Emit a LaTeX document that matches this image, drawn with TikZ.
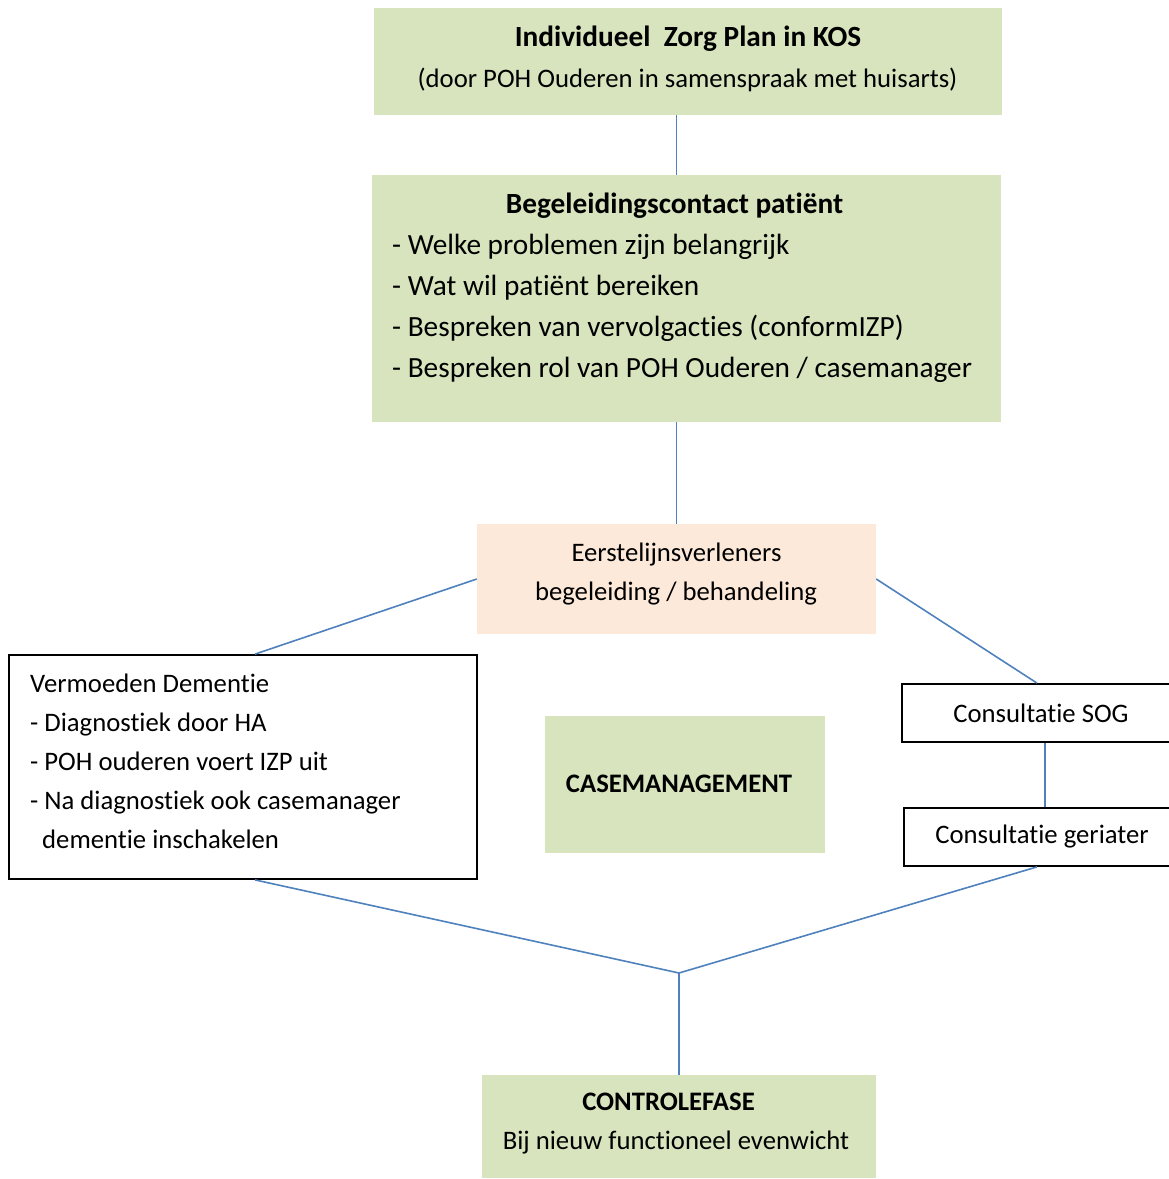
\documentclass[tikz,border=0pt]{standalone}
\usepackage{fontspec}
\setmainfont{Carlito}[Ligatures={NoCommon,NoContextual}]
\usetikzlibrary{positioning}

\definecolor{zorggreen}{HTML}{D7E4BD}
\definecolor{zorgpeach}{HTML}{FDE9D9}
\definecolor{zorgblue}{HTML}{4F81BD}

\tikzset{
  greenbox/.style={fill=zorggreen, inner sep=0pt},
  peachbox/.style={fill=zorgpeach, inner sep=0pt},
  plainbox/.style={draw=black, line width=1.8pt, fill=white, inner sep=0pt},
  lbl/.style={inner sep=0pt, font=\fontsize{26.7}{32}\selectfont},
  biglbl/.style={inner sep=0pt, font=\fontsize{29.3}{35}\selectfont},
  link/.style={draw=zorgblue, line width=1.6pt},
}

\begin{document}
\begin{tikzpicture}[x=1pt, y=-1pt]
\useasboundingbox (0,0) rectangle (1169,1179);

\node[greenbox, minimum width=628, minimum height=107] (izp) at (688,61.5) {};
\node[biglbl, anchor=base] (izpA) at (688,46) {\textbf{Individueel\ \ Zorg Plan in KOS}};
\node[lbl, anchor=base] (izpB) at (687.5,87) {(door POH Ouderen in samenspraak met huisarts)};

\node[greenbox, minimum width=629, minimum height=247] (contact) at (686.5,298.5) {};
\node[biglbl, anchor=base] (contactT) at (674.5,213) {\textbf{Begeleidingscontact patiënt}};
\foreach \t [count=\i] in {- Welke problemen zijn belangrijk, - Wat wil patiënt bereiken, - Bespreken van vervolgacties (conformIZP), - Bespreken rol van POH Ouderen / casemanager}
  \node[biglbl, anchor=base west] (contact\i) at (392,254+41*\i-41) {\t};

\node[peachbox, minimum width=399, minimum height=110] (eerste) at (676.5,579) {};
\node[lbl, anchor=base] (eersteA) at (676.5,561) {Eerstelijnsverleners};
\node[lbl, anchor=base] (eersteB) at (676,600) {begeleiding / behandeling};

\node[plainbox, minimum width=468, minimum height=224] (dementie) at (243,767) {};
\foreach \t/\x [count=\i] in {Vermoeden Dementie/30, - Diagnostiek door HA/30, - POH ouderen voert IZP uit/30, - Na diagnostiek ook casemanager/30, dementie inschakelen/42}
  \node[lbl, anchor=base west] (dementie\i) at (\x,692+39.2*\i-39.2) {\t};

\node[greenbox, minimum width=280, minimum height=137] (casemgmt) at (685,784.5) {};
\node[lbl, anchor=base] (casemgmtT) at (679,792) {\textbf{CASEMANAGEMENT}};

\node[plainbox, lbl, minimum width=278, minimum height=58] (sog) at (1041,713) {Consultatie SOG};
\node[plainbox, lbl, minimum width=276, minimum height=58] (geriater) at (1042,837) {Consultatie geriater};

\node[greenbox, minimum width=394, minimum height=103] (controle) at (679,1126.5) {};
\node[lbl, anchor=base] (controleA) at (668.5,1110) {\textbf{CONTROLEFASE}};
\node[lbl, anchor=base] (controleB) at (676,1149) {Bij nieuw functioneel evenwicht};

\coordinate (merge) at (679,973);

\draw[link] (izp.south -| eerste.north) -- (contact.north -| eerste.north);
\draw[link] (contact.south -| eerste.north) -- (eerste.north);
\draw[link] (eerste.west) -- ([xshift=12pt]dementie.north);
\draw[link] (eerste.east) -- ([xshift=-4pt]sog.north);
\draw[link] ([xshift=4pt]sog.south) -- ([xshift=3pt]geriater.north);
\draw[link] ([xshift=12pt]dementie.south) -- (merge) -- (controle.north);
\draw[link] ([xshift=-5pt]geriater.south) -- (merge);
\end{tikzpicture}
\end{document}
